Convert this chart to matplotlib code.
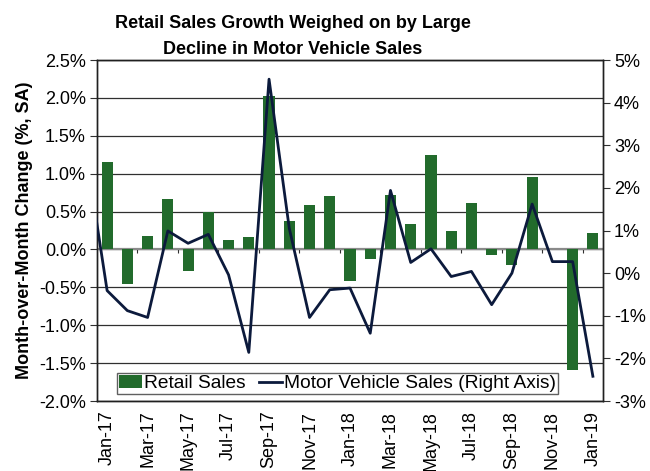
import matplotlib.pyplot as plt
from matplotlib.ticker import FuncFormatter, MultipleLocator

plt.rcParams['font.family'] = ['Liberation Sans', 'DejaVu Sans']

months = ["Jan-17", "Feb-17", "Mar-17", "Apr-17", "May-17", "Jun-17", "Jul-17",
          "Aug-17", "Sep-17", "Oct-17", "Nov-17", "Dec-17", "Jan-18", "Feb-18",
          "Mar-18", "Apr-18", "May-18", "Jun-18", "Jul-18", "Aug-18", "Sep-18",
          "Oct-18", "Nov-18", "Dec-18", "Jan-19"]
retail = [1.15, -0.45, 0.18, 0.66, -0.29, 0.50, 0.13, 0.16, 2.02, 0.37, 0.59,
          0.70, -0.41, -0.13, 0.72, 0.34, 1.24, 0.24, 0.61, -0.07, -0.21, 0.96,
          0.0, -1.59, 0.22]
# motor vehicle series starts one month earlier (Dec-16), clipped by the axis
motor = [2.7, -0.41, -0.88, -1.04, 0.99, 0.70, 0.91, -0.04, -1.86, 4.55, 1.05,
         -1.04, -0.39, -0.35, -1.41, 1.94, 0.25, 0.57, -0.08, 0.04, -0.74, 0.0,
         1.62, 0.27, 0.27, -2.42]

x = list(range(len(months)))
x_motor = list(range(-1, len(months)))

fig = plt.figure(figsize=(6.5, 4.71), dpi=100)
ax = fig.add_axes([97 / 650, 70 / 471, 506 / 650, 341 / 471])

bars = ax.bar(x, retail, width=0.55, color='#226b2c', zorder=3, label='Retail Sales')
ax.set_xlim(-0.5, len(months) - 0.5)
ax.set_ylim(-2.0, 2.5)
ax.yaxis.set_major_locator(MultipleLocator(0.5))
ax.yaxis.set_major_formatter(FuncFormatter(lambda v, p: f"{v:.1f}%"))
ax.grid(True, axis='y', color='#303030', linewidth=0.9, zorder=0)
ax.axhline(0, color='#8a8a8a', linewidth=1.6, zorder=2)
ax.set_xticks(x[::2])
ax.set_xticklabels(months[::2], rotation=90, fontsize=13)
ax.tick_params(axis='x', length=0, pad=7)
ax.tick_params(axis='y', labelsize=13, length=5, direction='out', color='#303030', pad=3)
ax.set_ylabel("Month-over-Month Change (%, SA)", fontsize=13, fontweight='bold', labelpad=4)
for s in ax.spines.values():
    s.set_color('#202020')
    s.set_linewidth(1.0)

# small ticks on the zero line between every other month
sec = ax.secondary_xaxis(2.0 / 4.5)
sec.set_xticks([1.5 + 2 * i for i in range(12)])
sec.set_xticklabels([])
sec.tick_params(length=3, direction='out', color='#303030')
sec.spines['bottom'].set_visible(False)

ax2 = ax.twinx()
line, = ax2.plot(x_motor, motor, color='#0c1a3c', linewidth=2.0, zorder=4,
                 label='Motor Vehicle Sales (Right Axis)')
ax2.set_ylim(-3, 5)
ax2.yaxis.set_major_locator(MultipleLocator(1))
ax2.yaxis.set_major_formatter(FuncFormatter(lambda v, p: f"{v:.0f}%"))
ax2.tick_params(axis='y', labelsize=13, length=5, direction='out', color='#303030', pad=3)
ax2.set_xlim(-0.5, len(months) - 0.5)
for s in ax2.spines.values():
    s.set_color('#202020')
    s.set_linewidth(1.0)

leg = ax2.legend([bars, line], ['Retail Sales', 'Motor Vehicle Sales (Right Axis)'],
                 loc='lower left', bbox_to_anchor=(0.04, 0.02), ncol=2,
                 fontsize=13.8, frameon=True, fancybox=False, framealpha=1,
                 edgecolor='#606060', borderpad=0.1, handlelength=1.2,
                 handletextpad=0.1, columnspacing=0.7, borderaxespad=0)
leg.get_frame().set_linewidth(1.0)

fig.text(0.45, 1 - 28 / 471, "Retail Sales Growth Weighed on by Large",
         ha='center', va='baseline', fontsize=13, fontweight='bold')
fig.text(0.45, 1 - 54 / 471, "Decline in Motor Vehicle Sales",
         ha='center', va='baseline', fontsize=13, fontweight='bold')

fig.savefig("out.png", dpi=100)
